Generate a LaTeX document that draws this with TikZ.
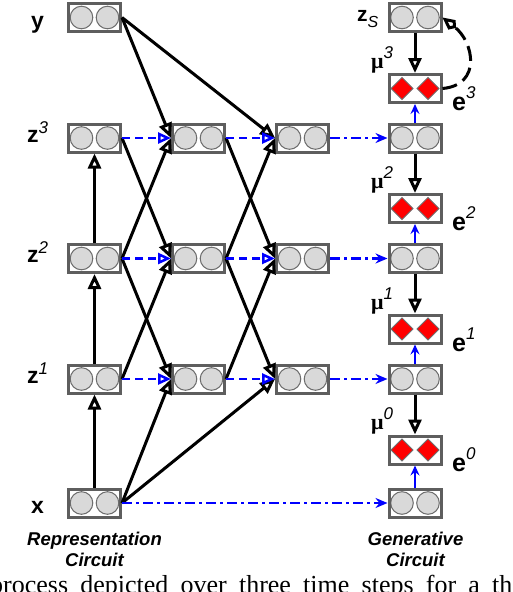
\documentclass[tikz,border=0pt]{standalone}
\usepackage{fontspec}
\setmainfont{Liberation Sans}
\newfontfamily\serifcap{Liberation Serif}
\usetikzlibrary{arrows.meta}
\definecolor{boxgray}{HTML}{5E5E5E}
\definecolor{cellgray}{HTML}{D9D9D9}
\definecolor{cellline}{HTML}{6E6E6E}
\definecolor{arrblue}{HTML}{0000FF}
\definecolor{errred}{HTML}{FF0000}
\tikzset{
  unitbox/.style={draw=boxgray, line width=3pt, fill=white, minimum width=52pt,
    minimum height=28pt, inner sep=0pt,
    path picture={\foreach \dx in {-13,13}{\draw[cellline, fill=cellgray, line width=1pt]
      ([xshift=\dx pt]path picture bounding box.center) circle (11.3pt);}}},
  errbox/.style={draw=boxgray, line width=3pt, fill=white, minimum width=52pt,
    minimum height=28pt, inner sep=0pt,
    path picture={\foreach \dx in {-13,13}{\draw[cellline, fill=errred, line width=1pt]
      ([xshift=\dx pt]path picture bounding box.center) ++(0pt,11pt) -- ++(11pt,-11pt)
      -- ++(-11pt,-11pt) -- ++(-11pt,11pt) -- cycle;}}},
  fwd/.style={black, line width=3pt, -{Triangle[open, length=15pt, width=13pt]}},
  lat/.style={arrblue, line width=2.5pt, dash pattern=on 8pt off 5pt,
    -{Triangle[open, length=13pt, width=11pt]}},
  fwdg/.style={arrblue, line width=2.5pt, dash pattern=on 10pt off 4pt on 3pt off 4pt,
    -{Stealth[length=12pt, width=10pt, inset=4pt]}},
  upb/.style={arrblue, line width=2.5pt, -{Stealth[length=10pt, width=9pt, inset=3.5pt]}},
  loopd/.style={black, line width=3pt, dash pattern=on 15pt off 7pt,
    -{Kite[open, length=17pt, width=12pt, inset=5pt]}},
  lab/.style={anchor=base west, inner sep=0pt, font=\fontsize{23}{23}\selectfont\bfseries},
  elab/.style={anchor=base west, inner sep=0pt, font=\fontsize{25}{25}\selectfont\bfseries},
  mulab/.style={anchor=base west, inner sep=0pt, font=\serifcap\fontsize{22}{22}\selectfont\bfseries},
  circlab/.style={anchor=base, inner sep=0pt, font=\fontsize{18.5}{18.5}\selectfont\bfseries\itshape},
}
\newcommand\supit[2]{\raisebox{#1}{\fontsize{17}{17}\selectfont\mdseries\itshape\rmfamily #2}}
\begin{document}
\begin{tikzpicture}[x=1pt, y=-1pt]
\useasboundingbox (0,0) rectangle (512,592);
% representation column
\node[unitbox] (y)   at (94.5,17.5) {};
\node[unitbox] (a3)  at (94.5,138) {};
\node[unitbox] (a2)  at (94.5,258.5) {};
\node[unitbox] (a1)  at (94.5,379) {};
\node[unitbox] (x)   at (94.5,503) {};
% second column
\node[unitbox] (b3)  at (198.5,138) {};
\node[unitbox] (b2)  at (198.5,258.5) {};
\node[unitbox] (b1)  at (198.5,379) {};
% third column
\node[unitbox] (c3)  at (302.5,138) {};
\node[unitbox] (c2)  at (302.5,258.5) {};
\node[unitbox] (c1)  at (302.5,379) {};
% generative column
\node[unitbox] (zs)  at (415,17.5) {};
\node[errbox]  (e3)  at (415,88.5) {};
\node[unitbox] (g3)  at (415,138) {};
\node[errbox]  (e2)  at (415,208.5) {};
\node[unitbox] (g2)  at (415,258.5) {};
\node[errbox]  (e1)  at (415,329) {};
\node[unitbox] (g1)  at (415,379) {};
\node[errbox]  (e0)  at (415,450) {};
\node[unitbox] (gx)  at (415,503) {};

% vertical arrows, representation column
\draw[fwd] (x.north) -- (a1.south);
\draw[fwd] (a1.north) -- (a2.south);
\draw[fwd] (a2.north) -- (a3.south);
% cross connections
\draw[fwd] (y.east) -- (b3.west);
\draw[fwd] (y.east) -- (c3.west);
\draw[fwd] (a3.east) -- (b2.west);
\draw[fwd] (a2.east) -- (b3.west);
\draw[fwd] (a2.east) -- (b1.west);
\draw[fwd] (a1.east) -- (b2.west);
\draw[fwd] (x.east) -- (b1.west);
\draw[fwd] (x.east) -- (c1.west);
\draw[fwd] (b3.east) -- (c2.west);
\draw[fwd] (b2.east) -- (c3.west);
\draw[fwd] (b2.east) -- (c1.west);
\draw[fwd] (b1.east) -- (c2.west);
% lateral dashed
\draw[lat] (a3.east) -- (b3.west);
\draw[lat] (b3.east) -- (c3.west);
\draw[lat] (a2.east) -- (b2.west);
\draw[lat] (b2.east) -- (c2.west);
\draw[lat] (a1.east) -- (b1.west);
\draw[lat] (b1.east) -- (c1.west);
% dash-dot to generative circuit
\draw[fwdg] (c3.east) -- (g3.west);
\draw[fwdg] (c2.east) -- (g2.west);
\draw[fwdg] (c1.east) -- (g1.west);
\draw[fwdg] (x.east) -- (gx.west);
% generative column
\draw[fwd] (zs.south) -- (e3.north);
\draw[fwd] (g3.south) -- (e2.north);
\draw[fwd] (g2.south) -- (e1.north);
\draw[fwd] (g1.south) -- (e0.north);
\draw[upb] (g3.north) -- (e3.south);
\draw[upb] (g2.north) -- (e2.south);
\draw[upb] (g1.north) -- (e1.south);
\draw[upb] (gx.north) -- (e0.south);
\draw[loopd] (e3.east) .. controls (482,85) and (474,42) .. (zs.east);

% labels
\node[lab] (ly)  at (31,28) {y};
\node[lab] (lz3) at (27,142) {z\supit{9pt}{3}};
\node[lab] (lz2) at (27,262.5) {z\supit{9pt}{2}};
\node[lab] (lz1) at (27,383) {z\supit{9pt}{1}};
\node[lab] (lx)  at (31,513) {x};
\node[anchor=base west, inner sep=0pt, font=\fontsize{21}{21}\selectfont\bfseries] (lzs) at (357,21.5)
  {z\raisebox{-5.5pt}{\fontsize{16}{16}\selectfont\mdseries\itshape S}};
\node[mulab] (m3) at (371,68) {μ\supit{10pt}{3}};
\node[mulab] (m2) at (371,188.5) {μ\supit{10pt}{2}};
\node[mulab] (m1) at (371,309) {μ\supit{10pt}{1}};
\node[mulab] (m0) at (371,429.5) {μ\supit{10pt}{0}};
\node[elab] (le3) at (452,110) {e\supit{12pt}{3}};
\node[elab] (le2) at (452,230.5) {e\supit{12pt}{2}};
\node[elab] (le1) at (452,351) {e\supit{12pt}{1}};
\node[elab] (le0) at (452,471) {e\supit{12pt}{0}};
\node[circlab] (r1) at (94.5,545) {Representation};
\node[circlab] (r2) at (94.5,566.5) {Circuit};
\node[circlab] (g1t) at (415.5,545) {Generative};
\node[circlab] (g2t) at (415.5,566.5) {Circuit};
\begin{scope}
\clip (0,0) rectangle (512,592);
\node[anchor=base west, inner sep=0pt, font=\serifcap\fontsize{26}{26}\selectfont] (captxt) at (-10,593.6)
  {\spaceskip=12.2pt\relax process depicted over three time steps for a th};
\end{scope}
\end{tikzpicture}
\end{document}
